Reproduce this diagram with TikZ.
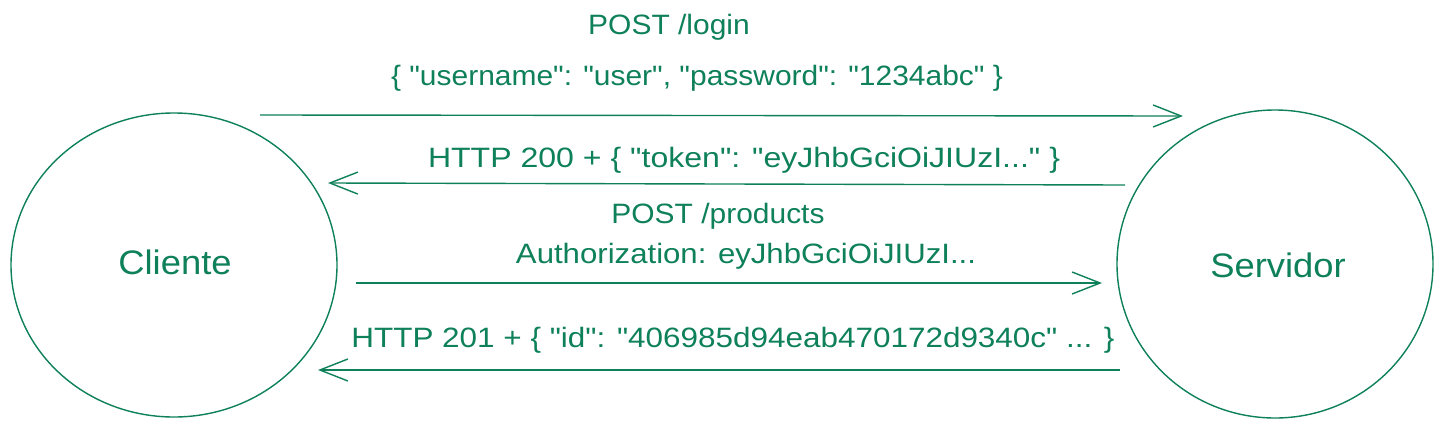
\documentclass[tikz,border=0pt]{standalone}
\usepackage{graphicx}
\usepackage{fontspec}
\setmainfont{Liberation Sans}[FakeStretch=1.07, Ligatures=TeXOff]
\usetikzlibrary{arrows.meta}
\definecolor{exgreen}{RGB}{14,128,90}
\newcommand{\qq}{\char34\relax}
\tikzset{
  lbl/.style={text=exgreen, inner sep=0pt, font=\fontsize{28}{32}\selectfont},
  big/.style={text=exgreen, inner sep=0pt, font=\fontsize{34}{38}\selectfont},
  ring/.style={draw=exgreen, line width=1.4pt},
  msg/.style={draw=exgreen, line width=1.4pt, -{Straight Barb[length=28pt,width=22pt,line width=1.4pt]}},
}
\begin{document}
\begin{tikzpicture}[x=1pt,y=-1pt]
\useasboundingbox (0,0) rectangle (1444,429);
% circles
\draw[ring] (174,265) ellipse [x radius=163, y radius=152];
\draw[ring] (1275,264) ellipse [x radius=158, y radius=154];
\node[big] (cli) at (175,262) {Cliente};
\node[big] (srv) at (1278,265) {Servidor};
% labels
\node[lbl] (l1) at (669,27) {POST /login};
\node[lbl] (l2) at (697,78) {\{ \qq username\qq: \qq user\qq, \qq password\qq: \qq 1234abc\qq\ \}};
\node[lbl] (l3) at (744,160) {\scalebox{1.07}[1]{HTTP 200 + \{ \qq token\qq: \qq eyJhbGciOiJIUzI...\qq\ \}}};
\node[lbl] (l4) at (718,216) {POST /products};
\node[lbl] (l5) at (746,256) {\scalebox{1.04}[1]{Authorization: eyJhbGciOiJIUzI...}};
\node[lbl] (l6) at (733,340) {\scalebox{1.05}[1]{HTTP 201 + \{ \qq id\qq: \qq 406985d94eab470172d9340c\qq\ ... \}}};
% arrow end points
\coordinate (a1s) at (260,115);
\coordinate (a1e) at (1183,116);
\coordinate (a2s) at (1125,185);
\coordinate (a2e) at (328,183);
\coordinate (a3s) at (356,283);
\coordinate (a3e) at (1102,283);
\coordinate (a4s) at (1120,370);
\coordinate (a4e) at (318,370);
\draw[msg] (a1s) -- (a1e);
\draw[msg] (a2s) -- (a2e);
\draw[msg] (a3s) -- (a3e);
\draw[msg] (a4s) -- (a4e);
\end{tikzpicture}
\end{document}
